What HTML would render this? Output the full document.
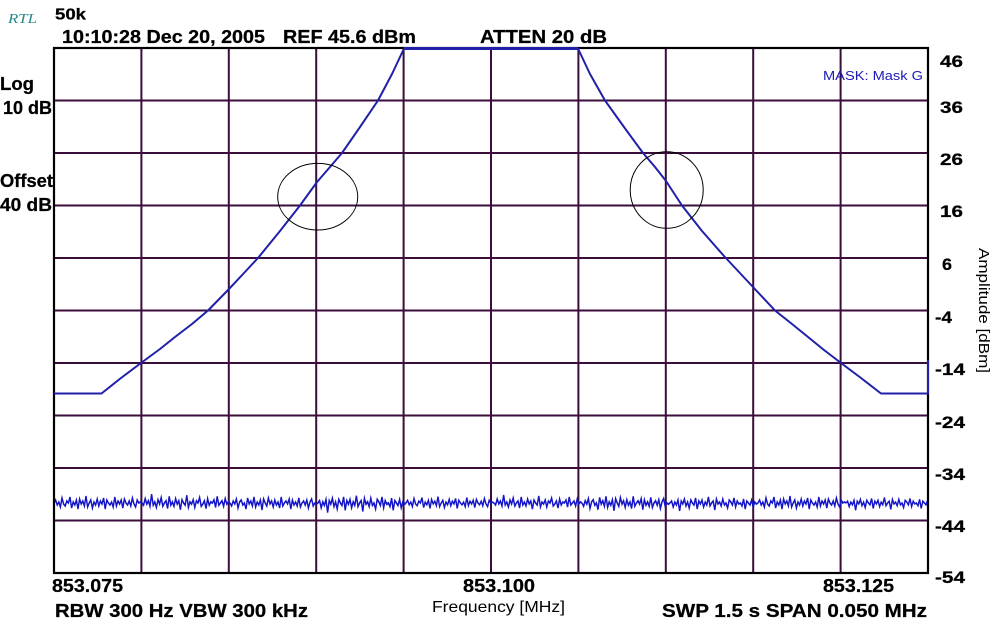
<!DOCTYPE html>
<html>
<head>
<meta charset="utf-8">
<style>
  html,body{margin:0;padding:0;background:#fff;}
  body{width:996px;height:621px;overflow:hidden;}
  svg{display:block;}
  .b{font-family:"Liberation Sans",Arial,sans-serif;font-weight:bold;fill:#000;stroke:#000;stroke-width:0.25;}
  .n{font-family:"Liberation Sans",Arial,sans-serif;font-weight:normal;fill:#000;}
</style>
</head>
<body>
<svg width="996" height="621" viewBox="0 0 996 621" xmlns="http://www.w3.org/2000/svg">
  <defs>
    <clipPath id="plot"><rect x="55" y="48" width="872" height="525"/></clipPath>
    <path id="nz" d="M0,0 L2,-3 L4,2 L6,-1 L8,4 L10,-5 L12,1 L14,3 L16,-2 L18,0 L20,-6 L22,5 L24,-1 L26,2 L28,-3 L30,6 L32,-4 L34,1 L36,-2 L38,3 L40,-7 L42,4 L44,0 L46,-3 L48,5 L50,-1 L52,2 L54,-4 L56,3 L58,-2 L60,1 L62,-5 L64,6 L66,-3 L68,0 L70,2 L72,-1 L74,4 L76,-6 L78,3 L80,-2 L82,1 L84,-3 L86,5 L88,-4 L90,0 L92,2 L94,-2 L96,3 L98,-5 L100,1 L102,4 L104,-3 L106,0 L108,-1 L110,0" fill="none" stroke="#1414c8" stroke-width="1.8"/>
    <path id="nz2" d="M0,0 L2,2 L4,-4 L6,1 L8,-2 L10,3 L12,-8 L14,2 L16,-1 L18,4 L20,-3 L22,1 L24,-5 L26,3 L28,0 L30,-2 L32,5 L34,-6 L36,2 L38,-1 L40,3 L42,-4 L44,1 L46,-2 L48,6 L50,-3 L52,0 L54,2 L56,-7 L58,4 L60,-1 L62,1 L64,-3 L66,4 L68,-2 L70,0 L72,-5 L74,3 L76,1 L78,-2 L80,5 L82,-4 L84,2 L86,-1 L88,0 L90,-3 L92,4 L94,-6 L96,2 L98,0 L100,-2 L102,3 L104,-4 L106,1 L108,-1 L110,0" fill="none" stroke="#1414c8" stroke-width="1.8"/>
  </defs>

  <rect width="996" height="621" fill="#fff"/>

  <!-- grid -->
  <g stroke="#3b0d3b" stroke-width="2">
    <line x1="141.4" y1="48" x2="141.4" y2="573"/>
    <line x1="228.8" y1="48" x2="228.8" y2="573"/>
    <line x1="316.2" y1="48" x2="316.2" y2="573"/>
    <line x1="403.6" y1="48" x2="403.6" y2="573"/>
    <line x1="491" y1="48" x2="491" y2="573"/>
    <line x1="578.4" y1="48" x2="578.4" y2="573"/>
    <line x1="665.8" y1="48" x2="665.8" y2="573"/>
    <line x1="753.2" y1="48" x2="753.2" y2="573"/>
    <line x1="840.6" y1="48" x2="840.6" y2="573"/>
    <line x1="54" y1="100.5" x2="928" y2="100.5"/>
    <line x1="54" y1="153" x2="928" y2="153"/>
    <line x1="54" y1="205.5" x2="928" y2="205.5"/>
    <line x1="54" y1="258" x2="928" y2="258"/>
    <line x1="54" y1="310.5" x2="928" y2="310.5"/>
    <line x1="54" y1="363" x2="928" y2="363"/>
    <line x1="54" y1="415.5" x2="928" y2="415.5"/>
    <line x1="54" y1="468" x2="928" y2="468"/>
    <line x1="54" y1="520.5" x2="928" y2="520.5"/>
  </g>
  <!-- border -->
  <rect x="54" y="48" width="874" height="525" fill="none" stroke="#000" stroke-width="2.2"/>

  <!-- noise trace -->
  <g clip-path="url(#plot)">
    <use href="#nz" transform="translate(54,503) scale(0.8,1)"/>
    <use href="#nz2" transform="translate(142,503) scale(0.8,1.1)"/>
    <use href="#nz" transform="translate(230,503) scale(0.8,-1)"/>
    <use href="#nz2" transform="translate(318,503) scale(0.8,-1.2)"/>
    <use href="#nz" transform="translate(406,503) scale(0.8,0.9)"/>
    <use href="#nz2" transform="translate(494,503) scale(0.8,1)"/>
    <use href="#nz" transform="translate(582,503) scale(0.8,-1.1)"/>
    <use href="#nz2" transform="translate(670,503) scale(0.8,-1)"/>
    <use href="#nz" transform="translate(758,503) scale(0.8,1)"/>
    <use href="#nz2" transform="translate(846,503) scale(0.8,-0.9)"/>
  </g>

  <!-- mask trace -->
  <polyline fill="none" stroke="#2020a8" stroke-width="2" stroke-linejoin="round"
    points="54,393.5 101.5,393.5 121,378 141,363 160,349 175,337 192,324 208,310.5 229,289 244,273 258,258 280,231 300,205.5 317,182 330,167 342,153 360,127 378,100.5 392,74 404,48.5 578,48.5 590,74 605,100.5 624,127 643,153 655,167 666,181 682,205.5 702,231 724,256 738,271 753,287 775,310.5 792,324 808,337 824,350 841,363 861,378 881,393.5 928,393.5 928,360"/>
  <line x1="404" y1="48.5" x2="578" y2="48.5" stroke="#2020a8" stroke-width="3"/>

  <!-- circles -->
  <ellipse cx="317.7" cy="196.7" rx="40" ry="33.3" fill="none" stroke="#000" stroke-width="1"/>
  <ellipse cx="666.7" cy="190" rx="36.5" ry="38.3" fill="none" stroke="#000" stroke-width="1"/>

  <!-- header text -->
  <text x="8" y="23" font-family="'Liberation Serif',serif" font-style="italic" font-size="14" fill="#2a8a8a" textLength="29" lengthAdjust="spacingAndGlyphs">RTL</text>
  <text class="b" x="55" y="19.5" font-size="16" textLength="31" lengthAdjust="spacingAndGlyphs">50k</text>
  <text class="b" x="62" y="43" font-size="18" textLength="203" lengthAdjust="spacingAndGlyphs">10:10:28 Dec 20, 2005</text>
  <text class="b" x="283" y="43" font-size="18" textLength="133" lengthAdjust="spacingAndGlyphs">REF 45.6 dBm</text>
  <text class="b" x="480" y="43" font-size="18" textLength="127" lengthAdjust="spacingAndGlyphs">ATTEN 20 dB</text>

  <text x="823" y="80" font-family="'Liberation Sans',Arial,sans-serif" font-size="13" fill="#1a1ab4" textLength="100" lengthAdjust="spacingAndGlyphs">MASK: Mask G</text>

  <!-- left labels -->
  <text class="b" x="0" y="90" font-size="18" textLength="34" lengthAdjust="spacingAndGlyphs">Log</text>
  <text class="b" x="3" y="114" font-size="18" textLength="49" lengthAdjust="spacingAndGlyphs">10 dB</text>
  <text class="b" x="0" y="187" font-size="18" textLength="53" lengthAdjust="spacingAndGlyphs">Offset</text>
  <text class="b" x="0" y="211" font-size="18" textLength="52" lengthAdjust="spacingAndGlyphs">40 dB</text>

  <!-- right tick labels -->
  <g class="b" font-size="17">
    <text x="940" y="67" textLength="23" lengthAdjust="spacingAndGlyphs">46</text>
    <text x="940" y="113" textLength="23" lengthAdjust="spacingAndGlyphs">36</text>
    <text x="940" y="165" textLength="23" lengthAdjust="spacingAndGlyphs">26</text>
    <text x="940" y="217" textLength="23" lengthAdjust="spacingAndGlyphs">16</text>
    <text x="942" y="270" textLength="10" lengthAdjust="spacingAndGlyphs">6</text>
    <text x="935" y="323" textLength="17" lengthAdjust="spacingAndGlyphs">-4</text>
    <text x="935" y="375" textLength="30" lengthAdjust="spacingAndGlyphs">-14</text>
    <text x="935" y="428" textLength="30" lengthAdjust="spacingAndGlyphs">-24</text>
    <text x="935" y="480" textLength="30" lengthAdjust="spacingAndGlyphs">-34</text>
    <text x="935" y="532" textLength="30" lengthAdjust="spacingAndGlyphs">-44</text>
    <text x="935" y="583" textLength="30" lengthAdjust="spacingAndGlyphs">-54</text>
  </g>

  <!-- y axis title -->
  <text class="n" font-size="15" transform="translate(979,248) rotate(90)" x="0" y="0" textLength="125" lengthAdjust="spacingAndGlyphs">Amplitude [dBm]</text>

  <!-- bottom labels -->
  <text class="b" x="52" y="592" font-size="18" textLength="71" lengthAdjust="spacingAndGlyphs">853.075</text>
  <text class="b" x="463" y="592" font-size="18" textLength="72" lengthAdjust="spacingAndGlyphs">853.100</text>
  <text class="b" x="823" y="592" font-size="18" textLength="71" lengthAdjust="spacingAndGlyphs">853.125</text>
  <text class="b" x="55" y="617" font-size="18" textLength="253" lengthAdjust="spacingAndGlyphs">RBW 300 Hz  VBW 300 kHz</text>
  <text class="n" x="432" y="612" font-size="16" textLength="133" lengthAdjust="spacingAndGlyphs">Frequency [MHz]</text>
  <text class="b" x="662" y="617" font-size="18" textLength="265" lengthAdjust="spacingAndGlyphs">SWP 1.5 s  SPAN 0.050 MHz</text>
</svg>
</body>
</html>
